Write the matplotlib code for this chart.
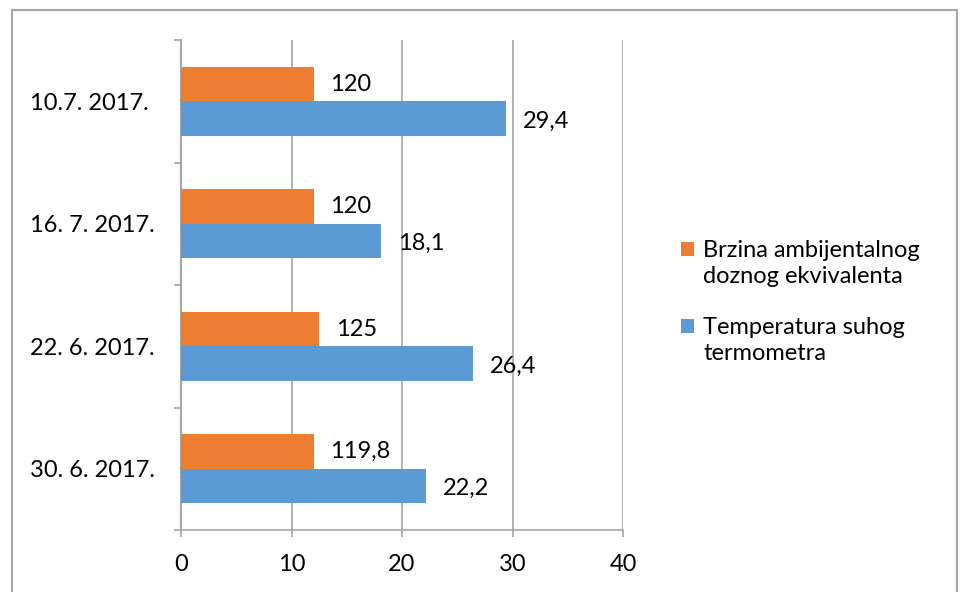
import matplotlib
matplotlib.use("Agg")
import matplotlib.pyplot as plt
import numpy as np
from matplotlib.patches import Rectangle
from matplotlib.legend_handler import HandlerPatch

plt.rcParams['font.family'] = ['Lato', 'DejaVu Sans']

# categories, bottom to top as drawn
dates = ["30. 6. 2017.", "22. 6. 2017.", "16. 7. 2017.", "10.7. 2017."]
temperatura = [22.2, 26.4, 18.1, 29.4]
brzina_labels = [119.8, 125, 120, 120]
# the orange series is drawn at 1/10 of its label value
brzina_bars = [12.0, 12.5, 12.0, 12.0]
xticks = [0, 10, 20, 30, 40]

ORANGE = "#ED7D31"
BLUE = "#5B9BD5"
GRID = "#A6A6A6"

fig = plt.figure(figsize=(9.62, 5.92), dpi=100)
ax = fig.add_axes([181 / 962, 62 / 592, 442 / 962, 490 / 592])

fig.patches.append(Rectangle((12 / 962, -0.1), (957 - 12) / 962, (592 - 10) / 592 + 0.1,
                             transform=fig.transFigure, fill=False,
                             edgecolor=GRID, linewidth=1.5))

y = np.arange(len(dates))
h = 0.28
b1 = ax.barh(y + h / 2, brzina_bars, height=h, color=ORANGE, zorder=3)
b2 = ax.barh(y - h / 2, temperatura, height=h, color=BLUE, zorder=3)

def fmt(v):
    return ("%g" % v).replace(".", ",")

for yi, bv, lv in zip(y, brzina_bars, brzina_labels):
    ax.annotate(fmt(lv), (bv, yi + h / 2), xytext=(12, 0), textcoords="offset points",
                va="center", ha="left", fontsize=17)
for yi, tv in zip(y, temperatura):
    ax.annotate(fmt(tv), (tv, yi - h / 2), xytext=(12, -2), textcoords="offset points",
                va="center", ha="left", fontsize=17)

ax.set_xlim(0, 40)
ax.set_ylim(-0.5, len(dates) - 0.5)
ax.set_xticks(xticks)
ax.set_xticklabels([str(t) for t in xticks], fontsize=17)
ax.grid(axis="x", color=GRID, linewidth=1.2, zorder=0)

ax.set_yticks(np.arange(len(dates) + 1) - 0.5)
ax.set_yticklabels([])
ax.set_yticks(y, minor=True)
ax.set_yticklabels(dates, minor=True, fontsize=17)
ax.tick_params(axis="y", which="minor", length=0, pad=151 * 0.72)
for lbl in ax.get_yticklabels(minor=True):
    lbl.set_horizontalalignment("left")
ax.tick_params(axis="y", which="major", length=5, color=GRID, width=1.2)
ax.tick_params(axis="x", length=5, color=GRID, width=1.2, pad=12.5)

for s in ["top", "right"]:
    ax.spines[s].set_visible(False)
ax.spines["left"].set_color(GRID)
ax.spines["left"].set_linewidth(1.5)
ax.spines["bottom"].set_color(GRID)
ax.spines["bottom"].set_linewidth(1.2)


# put the legend square next to the first line of each label
def top_square(legend, orig_handle, xdescent, ydescent, width, height, fontsize):
    return Rectangle((-xdescent, -ydescent + 10.5), width, height)


handles = [b1.patches[0], b2.patches[0]]
labels = ["Brzina ambijentalnog\ndoznog ekvivalenta", "Temperatura suhog\ntermometra"]
leg = fig.legend(handles, labels, loc="upper left", bbox_to_anchor=(660 / 962, 1 - 219 / 592),
                 frameon=False, fontsize=17, handlelength=0.52, handleheight=0.52,
                 handletextpad=0.42, labelspacing=1.24, borderpad=0.4,
                 handler_map={hd: HandlerPatch(patch_func=top_square) for hd in handles})
for t in leg.get_texts():
    t.set_linespacing(1.3)

fig.savefig("out.png", dpi=100)
